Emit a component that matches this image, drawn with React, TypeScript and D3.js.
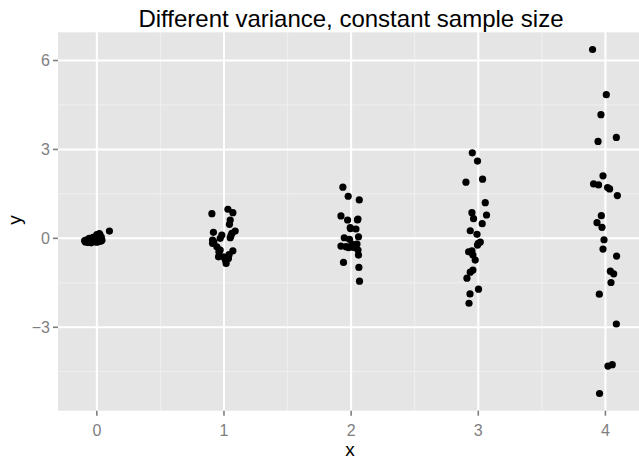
import React from "react";
import * as d3 from "d3";

const title = "Different variance, constant sample size";
const xTicks = [0, 1, 2, 3, 4];
const yTicks = [-3, 0, 3, 6];
const xMinor = [0.5, 1.5, 2.5, 3.5];
const yMinor = [-4.5, -1.5, 1.5, 4.5];

const group0: [number, number][] = [
  [-0.096, -0.08], [-0.09, -0.12], [-0.08, -0.05], [-0.07, -0.14], [-0.06, -0.09],
  [-0.05, -0.02], [-0.045, -0.15], [-0.035, -0.07], [-0.03, 0.03], [-0.02, -0.11],
  [-0.015, -0.04], [-0.01, 0.06], [0.0, -0.13], [0.005, 0.0], [0.01, -0.08],
  [0.015, 0.09], [0.02, -0.03], [0.025, 0.12], [0.03, -0.1], [0.035, 0.04],
  [0.04, -0.06], [-0.06, 0.0], [0.0, 0.13], [0.02, 0.16], [0.099, 0.247],
];
const group1: [number, number][] = [
  [0.905, 0.832], [1.031, 0.981], [1.07, 0.866], [1.049, 0.619], [1.043, 0.474],
  [1.088, 0.247], [0.917, 0.203], [0.983, 0.112], [1.062, 0.169], [1.049, 0.02],
  [0.97, 0.0], [0.91, -0.058], [0.91, -0.169], [0.944, -0.284], [0.97, -0.396],
  [1.07, -0.42], [0.957, -0.623], [0.996, -0.623], [1.035, -0.677], [1.017, -0.846],
  [0.96, -0.45], [1.01, -0.72], [0.92, -0.12], [1.055, 0.09], [1.04, -0.55],
];
const group2: [number, number][] = [
  [1.935, 1.726], [1.977, 1.421], [2.064, 1.296], [1.92, 0.755], [1.972, 0.619],
  [2.054, 0.653], [1.993, 0.359], [2.038, 0.315], [1.946, 0.02], [1.987, -0.034],
  [2.058, 0.054], [1.92, -0.261], [1.98, -0.318], [2.006, -0.193], [2.046, -0.193],
  [2.054, -0.396], [2.058, -0.565], [1.94, -0.812], [2.061, -0.981], [2.066, -1.445],
  [2.019, -0.305], [1.995, 0.33], [2.03, -0.25], [1.96, -0.28], [2.05, 0.62],
];
const group3: [number, number][] = [
  [2.953, 2.887], [2.994, 2.606], [2.903, 1.895], [3.034, 1.997], [3.055, 1.205],
  [2.95, 0.866], [3.065, 0.788], [2.963, 0.663], [3.031, 0.494], [2.937, 0.257],
  [2.99, 0.135], [3.016, -0.125], [2.994, -0.227], [2.924, -0.453], [2.95, -0.42],
  [2.958, -0.565], [2.976, -0.734], [2.958, -1.072], [2.937, -1.14], [2.911, -1.343],
  [3.002, -1.716], [2.935, -1.875], [2.927, -2.19], [2.945, -0.47], [3.0, -0.17],
];
const group4: [number, number][] = [
  [3.899, 6.372], [4.007, 4.849], [3.965, 4.172], [3.942, 3.269], [4.086, 3.404],
  [3.981, 2.108], [3.907, 1.838], [3.946, 1.804], [4.017, 1.712], [4.033, 1.668],
  [4.094, 1.442], [3.968, 0.765], [3.934, 0.528], [3.973, 0.372], [3.989, -0.047],
  [3.981, -0.362], [4.088, -0.599], [4.039, -1.106], [4.065, -1.198], [4.044, -1.489],
  [3.952, -1.885], [4.086, -2.89], [4.02, -4.311], [4.054, -4.264], [3.954, -5.235],
];

const allPoints = [...group0, ...group1, ...group2, ...group3, ...group4];

const W = 639;
const H = 459;
const panel = { left: 58, top: 32.3, right: 644, bottom: 410.7 };
const font = "'Liberation Sans', Arial, Helvetica, sans-serif";

function expand(ext: [number, number]): [number, number] {
  const r = ext[1] - ext[0];
  return [ext[0] - 0.05 * r, ext[1] + 0.05 * r];
}

export default function App() {
  const xExt = d3.extent(allPoints, (d) => d[0]) as [number, number];
  const yExt = d3.extent(allPoints, (d) => d[1]) as [number, number];
  const x = d3.scaleLinear().domain(expand(xExt)).range([panel.left, panel.right]);
  const y = d3.scaleLinear().domain(expand(yExt)).range([panel.bottom, panel.top]);
  const pw = panel.right - panel.left;
  const ph = panel.bottom - panel.top;

  return (
    <svg
      width={W}
      height={H}
      style={{ position: "absolute", left: 0, top: 0, background: "#fff" }}
      fontFamily={font}
    >
      <rect x={panel.left} y={panel.top} width={pw} height={ph} fill="#e5e5e5" />
      {xMinor.map((v) => (
        <line key={"xm" + v} x1={x(v)} x2={x(v)} y1={panel.top} y2={panel.bottom} stroke="#f2f2f2" strokeWidth={0.9} />
      ))}
      {yMinor.map((v) => (
        <line key={"ym" + v} y1={y(v)} y2={y(v)} x1={panel.left} x2={panel.right} stroke="#f2f2f2" strokeWidth={0.9} />
      ))}
      {xTicks.map((v) => (
        <line key={"xg" + v} x1={x(v)} x2={x(v)} y1={panel.top} y2={panel.bottom} stroke="#fff" strokeWidth={2} />
      ))}
      {yTicks.map((v) => (
        <line key={"yg" + v} y1={y(v)} y2={y(v)} x1={panel.left} x2={panel.right} stroke="#fff" strokeWidth={2} />
      ))}
      {allPoints.map((d, i) => (
        <circle key={i} cx={x(d[0])} cy={y(d[1])} r={3.6} fill="#000" />
      ))}
      {xTicks.map((v) => (
        <g key={"xt" + v}>
          <line x1={x(v)} x2={x(v)} y1={panel.bottom} y2={panel.bottom + 5} stroke="#7f7f7f" strokeWidth={1.6} />
          <text x={x(v)} y={panel.bottom + 25} textAnchor="middle" fontSize={16} fill="#7f7f7f">
            {v}
          </text>
        </g>
      ))}
      {yTicks.map((v) => (
        <g key={"yt" + v}>
          <line x1={panel.left - 5} x2={panel.left} y1={y(v)} y2={y(v)} stroke="#7f7f7f" strokeWidth={1.6} />
          <text x={panel.left - 8} y={y(v)} dy="0.36em" textAnchor="end" fontSize={16} fill="#7f7f7f">
            {v < 0 ? "\u2212" + String(-v) : String(v)}
          </text>
        </g>
      ))}
      <text x={350} y={456} textAnchor="middle" fontSize={19}>
        x
      </text>
      <text transform={`translate(21,220) rotate(-90)`} textAnchor="middle" fontSize={19}>
        y
      </text>
      <text x={351} y={27} textAnchor="middle" fontSize={24}>
        {title}
      </text>
    </svg>
  );
}
